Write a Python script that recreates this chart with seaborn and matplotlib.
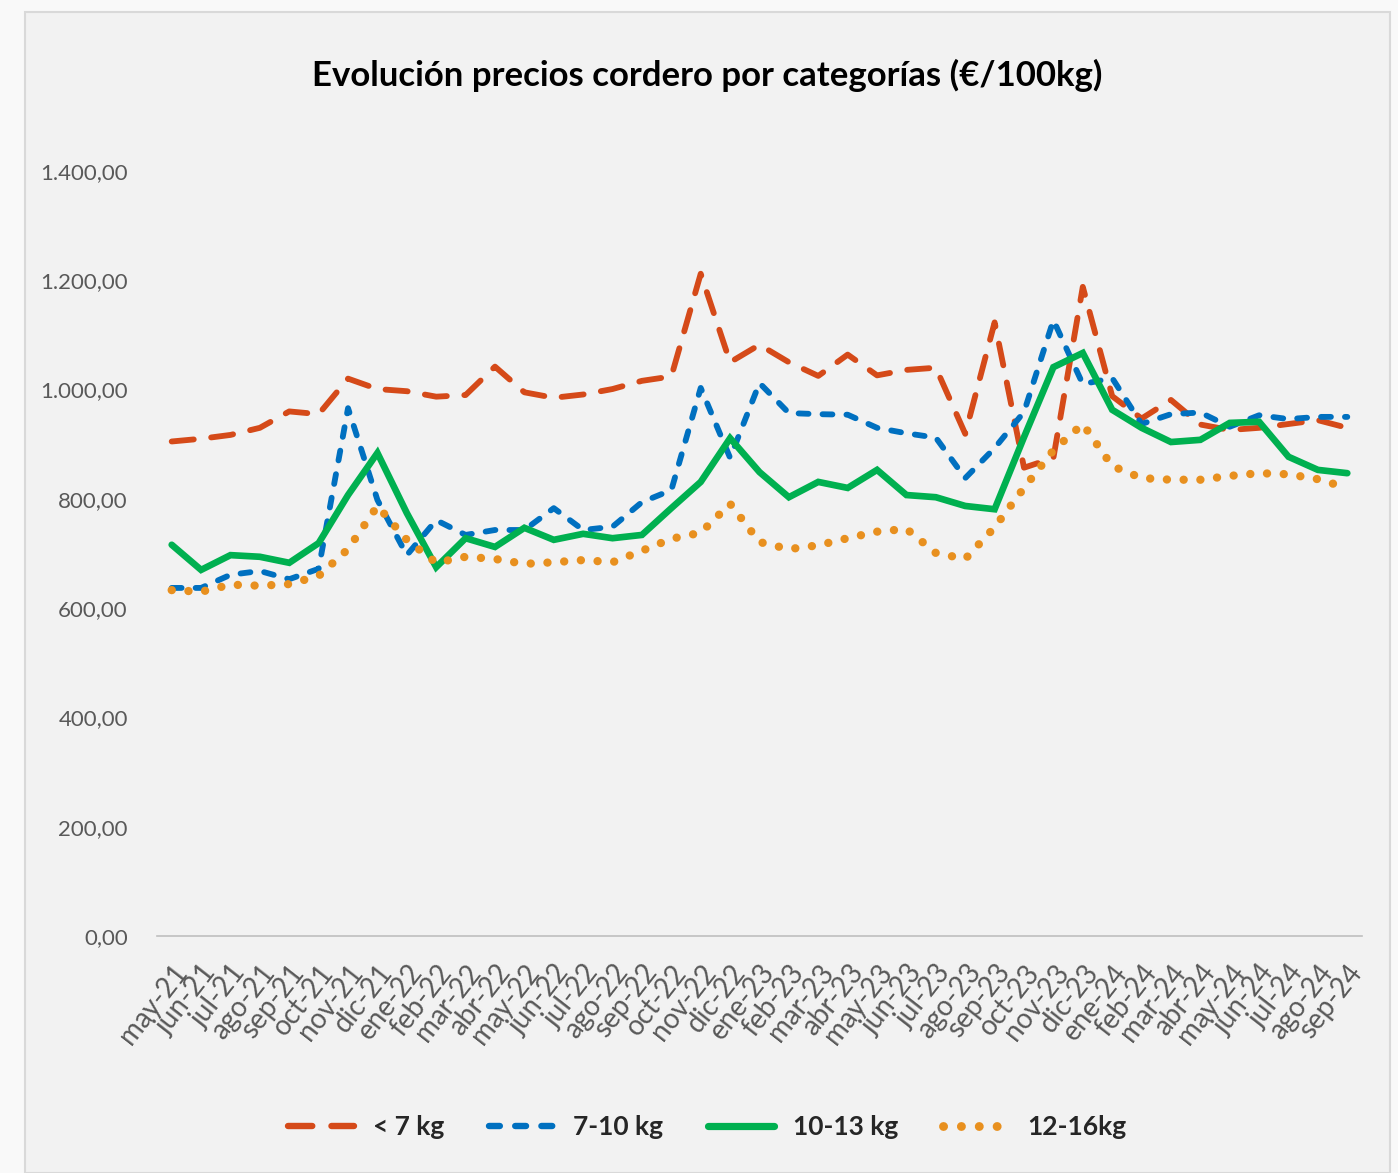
import numpy as np
import pandas as pd
import matplotlib.pyplot as plt
import seaborn as sns
from matplotlib.lines import Line2D
from matplotlib.patches import Rectangle
from matplotlib.ticker import FuncFormatter

# Data
meses = ['may-21', 'jun-21', 'jul-21', 'ago-21', 'sep-21', 'oct-21', 'nov-21', 'dic-21',
         'ene-22', 'feb-22', 'mar-22', 'abr-22', 'may-22', 'jun-22', 'jul-22', 'ago-22',
         'sep-22', 'oct-22', 'nov-22', 'dic-22', 'ene-23', 'feb-23', 'mar-23', 'abr-23',
         'may-23', 'jun-23', 'jul-23', 'ago-23', 'sep-23', 'oct-23', 'nov-23', 'dic-23',
         'ene-24', 'feb-24', 'mar-24', 'abr-24', 'may-24', 'jun-24', 'jul-24', 'ago-24',
         'sep-24']

menos_7 = [905, 910, 917, 930, 960, 955, 1020, 1001, 997, 987, 990, 1042, 995, 985,
           991, 1001, 1016, 1024, 1212, 1050, 1082, 1050, 1025, 1064, 1026, 1036, 1040,
           919, 1123, 857, 875, 1188, 988, 947, 981, 936, 926, 930, 937, 944, 930]
de_7_10 = [637, 637, 661, 668, 653, 672, 966, 798, 697, 761, 734, 743, 743, 783, 743,
           749, 794, 816, 1003, 875, 1012, 957, 955, 954, 930, 920, 912, 838, 893, 959,
           1127, 1010, 1021, 937, 955, 958, 932, 953, 946, 950, 950]
de_10_13 = [716, 670, 697, 694, 683, 719, 807, 884, 774, 675, 728, 712, 747, 725, 736,
            728, 734, 783, 831, 911, 849, 803, 831, 820, 853, 807, 803, 787, 781, 913,
            1041, 1067, 963, 930, 904, 908, 939, 941, 877, 853, 847]
de_12_16 = [633, 630, 643, 641, 644, 659, 708, 787, 725, 683, 694, 690, 681, 684, 688,
            684, 705, 727, 738, 791, 721, 708, 715, 728, 740, 745, 701, 690, 748, 820,
            889, 937, 860, 838, 835, 835, 842, 847, 845, 836, 820]

categorias = ['< 7 kg', '7-10 kg', '10-13 kg', '12-16kg']
colores = ['#D54A19', '#0070C0', '#00B050', '#E8901F']

df = pd.DataFrame({'idx': np.arange(len(meses))})
for cat, vals in zip(categorias, [menos_7, de_7_10, de_10_13, de_12_16]):
    df[cat] = vals

estilos = {
    '< 7 kg': dict(lw=4.2, dashes=(3.8, 3.0)),
    '7-10 kg': dict(lw=4.2, dashes=(1.7, 2.4)),
    '10-13 kg': dict(lw=4.8, dashes=None),
    '12-16kg': dict(lw=6.0, dashes=(0.01, 2.0)),
}

sns.set_theme(style='white')
plt.rcParams['font.family'] = ['Lato', 'DejaVu Sans']

fig = plt.figure(figsize=(13.98, 11.73), dpi=100)
fig.patch.set_facecolor('#f9f9f9')
fondo = Rectangle((25 / 1398, 0), 1365 / 1398, 1 - 12 / 1173,
                  transform=fig.transFigure, facecolor='#f2f2f2',
                  edgecolor='#d9d9d9', linewidth=1.5, zorder=-5)
fig.patches.append(fondo)

ax = fig.add_axes([157 / 1398, 1 - 936 / 1173, (1362 - 157) / 1398, (936 - 171) / 1173])
ax.set_facecolor('none')
ax.set_zorder(2)

handles = []
for cat, col in zip(categorias, colores):
    st = estilos[cat]
    sns.lineplot(data=df, x='idx', y=cat, color=col, linewidth=st['lw'], ax=ax)
    line = ax.lines[-1]
    if st['dashes'] is not None:
        line.set_dashes(st['dashes'])
        line.set_dash_capstyle('round')
    line.set_solid_capstyle('round')
    line.set_solid_joinstyle('miter')
    h = Line2D([0], [0], color=col, linewidth=st['lw'] + 0.4)
    if st['dashes'] is not None:
        h.set_dashes(st['dashes'])
        h.set_dash_capstyle('round')
    else:
        h.set_solid_capstyle('round')
    handles.append(h)

ax.set_xlim(-0.5, len(meses) - 0.5)
ax.set_ylim(0, 1400)
ax.set_yticks(np.arange(0, 1401, 200))
ax.yaxis.set_major_formatter(FuncFormatter(
    lambda v, p: f'{v:,.2f}'.replace(',', 'X').replace('.', ',').replace('X', '.')))
ax.set_xticks(df['idx'])
ax.set_xticklabels(meses, rotation=52, ha='right', va='top', rotation_mode='anchor')
ax.tick_params(axis='x', length=0, pad=17, labelsize=20, labelcolor='#595959')
ax.tick_params(axis='y', length=0, pad=21, labelsize=16, labelcolor='#595959')
ax.set_xlabel('')
ax.set_ylabel('')
for s in ['top', 'right', 'left']:
    ax.spines[s].set_visible(False)
ax.spines['bottom'].set_color('#bfbfbf')
ax.spines['bottom'].set_linewidth(1.2)
ax.grid(False)

fig.text(0.506, 1 - 75 / 1173, 'Evolución precios cordero por categorías (€/100kg)',
         ha='center', va='center', fontsize=25, fontweight='bold', color='black')

leg = fig.legend(handles, categorias, loc='center', bbox_to_anchor=(0.506, 1 - 1127 / 1173),
                 ncol=4, frameon=False, handlelength=2.5, handletextpad=0.7,
                 columnspacing=1.7, prop={'size': 19, 'weight': 'bold'})

fig.savefig('out.png', dpi=100, facecolor=fig.get_facecolor())
